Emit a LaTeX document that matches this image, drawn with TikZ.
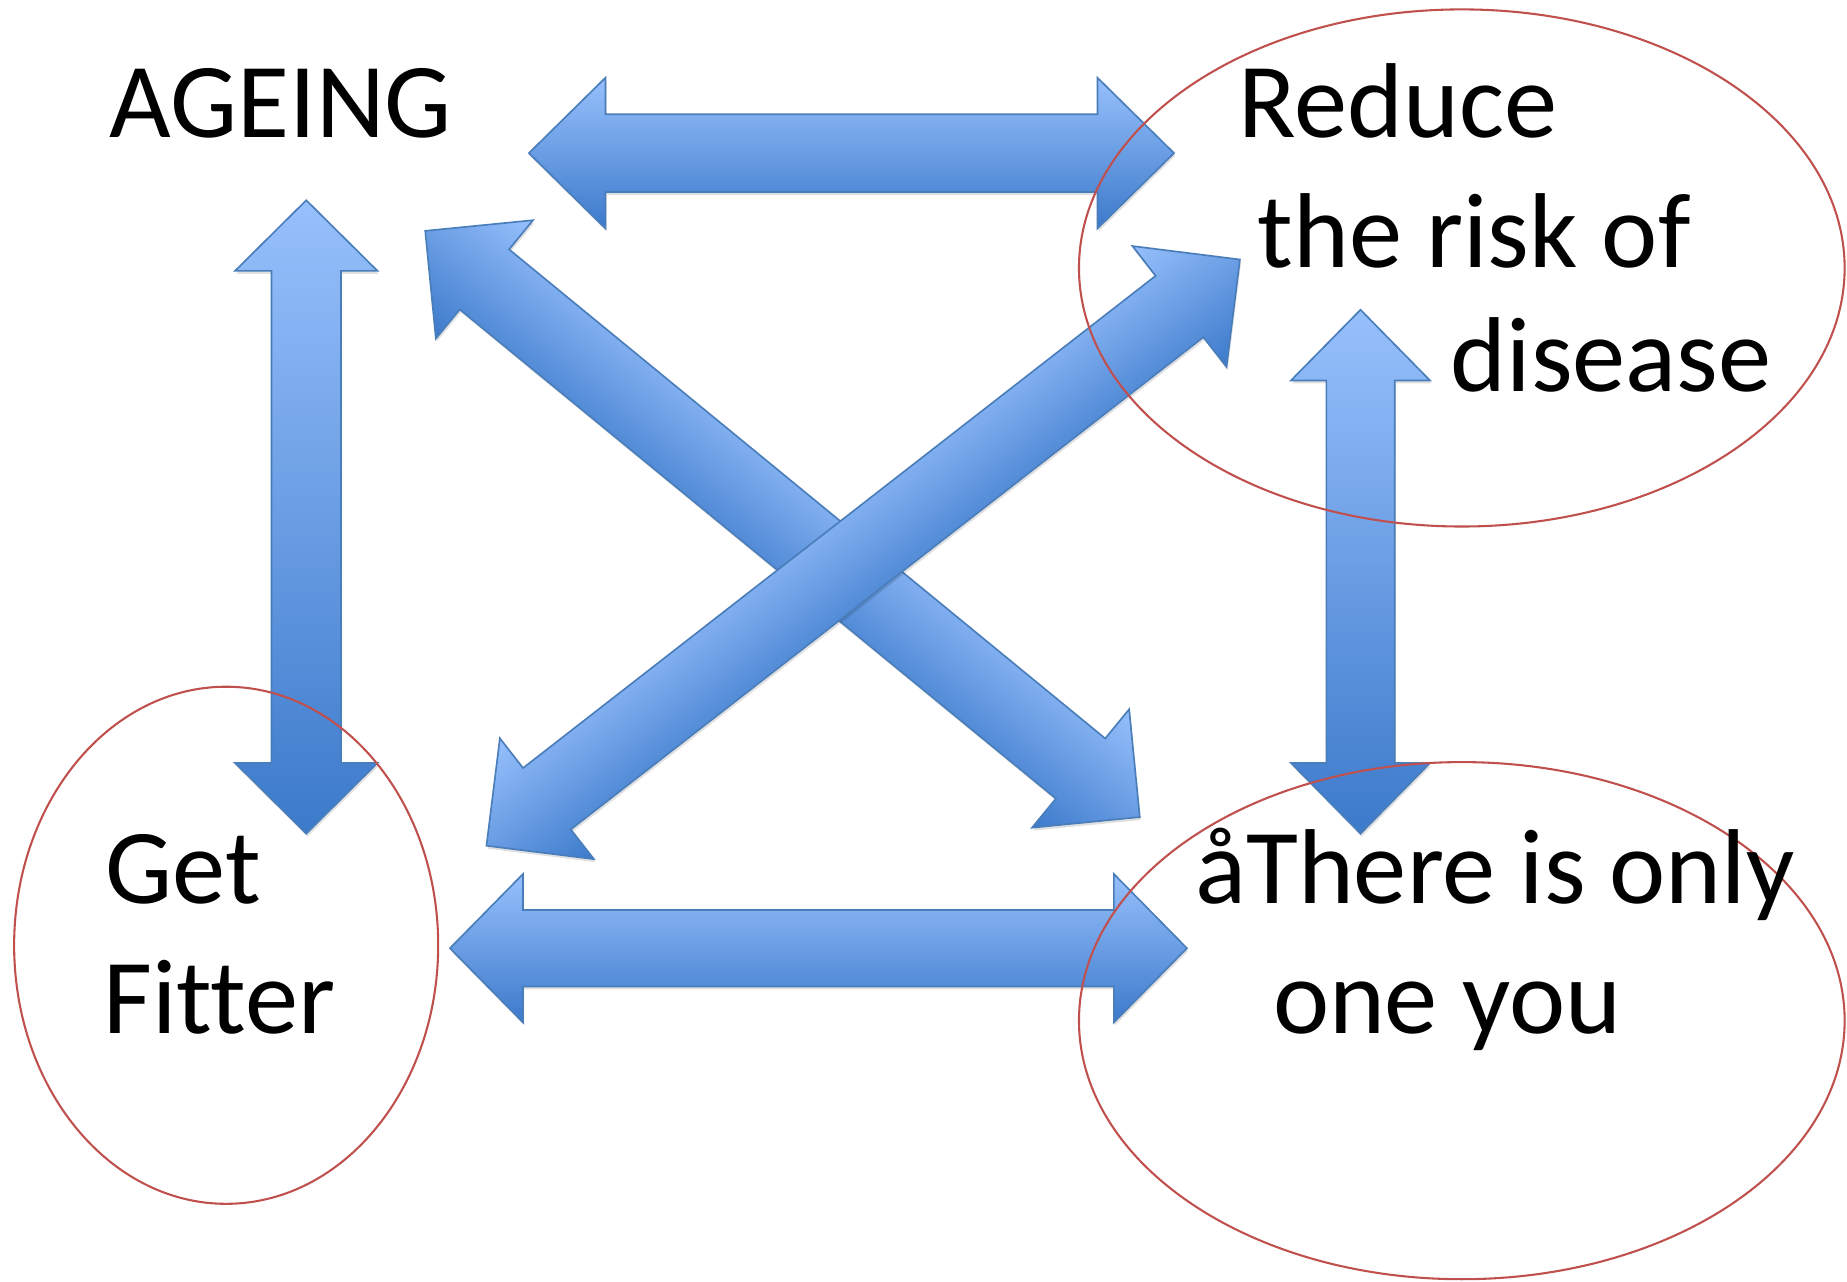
\documentclass[tikz,border=0pt]{standalone}
\usepackage{fontspec}
\setmainfont{Carlito}[Ligatures={NoCommon,NoContextual}, Contextuals=NoAlternate]
\usetikzlibrary{calc}
\definecolor{arrowlight}{HTML}{97C0FC}
\definecolor{arrowdark}{HTML}{3C7ACB}
\definecolor{arrowedge}{HTML}{4A7EBB}
\definecolor{ringred}{HTML}{C0504D}
\tikzset{
	bigtext/.style={font=\fontsize{25.7}{31}\selectfont, anchor=base west, inner sep=0pt}
}
\tikzset{
	redring/.style={draw=ringred, line width=0.5pt}
}
\tikzset{
	acrossshade/.style={top color=arrowlight, bottom color=arrowdark},
	alongshade/.style={left color=arrowlight, right color=arrowdark}
}
% double block arrow from one named coordinate to another
% #3 half shaft, #4 half head, #5 head length, #6 shading style
\newcommand{\dblarrow}[6]{%
	\path let \p1=($(#2)-(#1)$) in
		\pgfextra{\pgfmathparse{atan2(\y1,\x1)}\xdef\arrang{\pgfmathresult}%
			\pgfmathparse{veclen(\x1,\y1)/0.2845276}\xdef\arrlen{\pgfmathresult}};
	\begin{scope}[transform canvas={shift={($(#1)+(1,-2.5)$)},rotate=\arrang}]
		\fill[black, opacity=0.12]
			(0,0) -- (#5,#4) -- (#5,#3) -- ({\arrlen-#5},#3) -- ({\arrlen-#5},#4) --
			(\arrlen,0) -- ({\arrlen-#5},-#4) -- ({\arrlen-#5},-#3) -- (#5,-#3) -- (#5,-#4) -- cycle;
	\end{scope}
	\begin{scope}[transform canvas={shift={(#1)},rotate=\arrang}]
		\shade[#6, draw=arrowedge, line width=0.4pt]
			(0,0) -- (#5,#4) -- (#5,#3) -- ({\arrlen-#5},#3) -- ({\arrlen-#5},#4) --
			(\arrlen,0) -- ({\arrlen-#5},-#4) -- ({\arrlen-#5},-#3) -- (#5,-#3) -- (#5,-#4) -- cycle;
	\end{scope}
}

\begin{document}
\begin{tikzpicture}[x=0.01cm, y=0.01cm]

	\useasboundingbox[fill=white] (0,0) rectangle (1568,1088);

	% arrow ends
	\coordinate (topL) at (449,958);
	\coordinate (topR) at (997,958);
	\coordinate (botL) at (382,283);
	\coordinate (botR) at (1008,283);
	\coordinate (leftT) at (260,918);
	\coordinate (leftB) at (260,380);
	\coordinate (rightT) at (1155,825);
	\coordinate (rightB) at (1155,380);
	\coordinate (diagNW) at (361,892);
	\coordinate (diagSE) at (968,394);
	\coordinate (diagSW) at (413,370);
	\coordinate (diagNE) at (1053,868);

	\dblarrow{topL}{topR}{33}{64}{65}{acrossshade}
	\dblarrow{botL}{botR}{32.5}{63}{62}{acrossshade}
	\dblarrow{leftT}{leftB}{29.5}{60.5}{60}{alongshade}
	\dblarrow{rightT}{rightB}{29}{59}{60}{alongshade}
	\dblarrow{diagNW}{diagSE}{33}{65}{65}{acrossshade}
	\dblarrow{diagSW}{diagNE}{33}{65}{65}{acrossshade}

	% rings
	\draw[redring] (1241,860.5) ellipse [x radius=325, y radius=219.5];
	\draw[redring] (1241,221.5) ellipse [x radius=325, y radius=219.5];
	\draw[redring] (192,285.5) ellipse [x radius=180, y radius=219.5];

	% texts
	\node[bigtext] (ageing) at (92,971) {AGEING};
	\node[bigtext] (reduce1) at (1051,971) {Reduce};
	\node[bigtext] (reduce2) at (1067,861) {the risk of};
	\node[bigtext] (reduce3) at (1231,756) {disease};
	\node[bigtext] (get) at (89,321) {Get};
	\node[bigtext] (fitter) at (87,211) {Fitter};
	\node[bigtext] (there) at (1014,321) {åThere is only};
	\node[bigtext] (oneyou) at (1080,211) {one you};

\end{tikzpicture}
\end{document}
